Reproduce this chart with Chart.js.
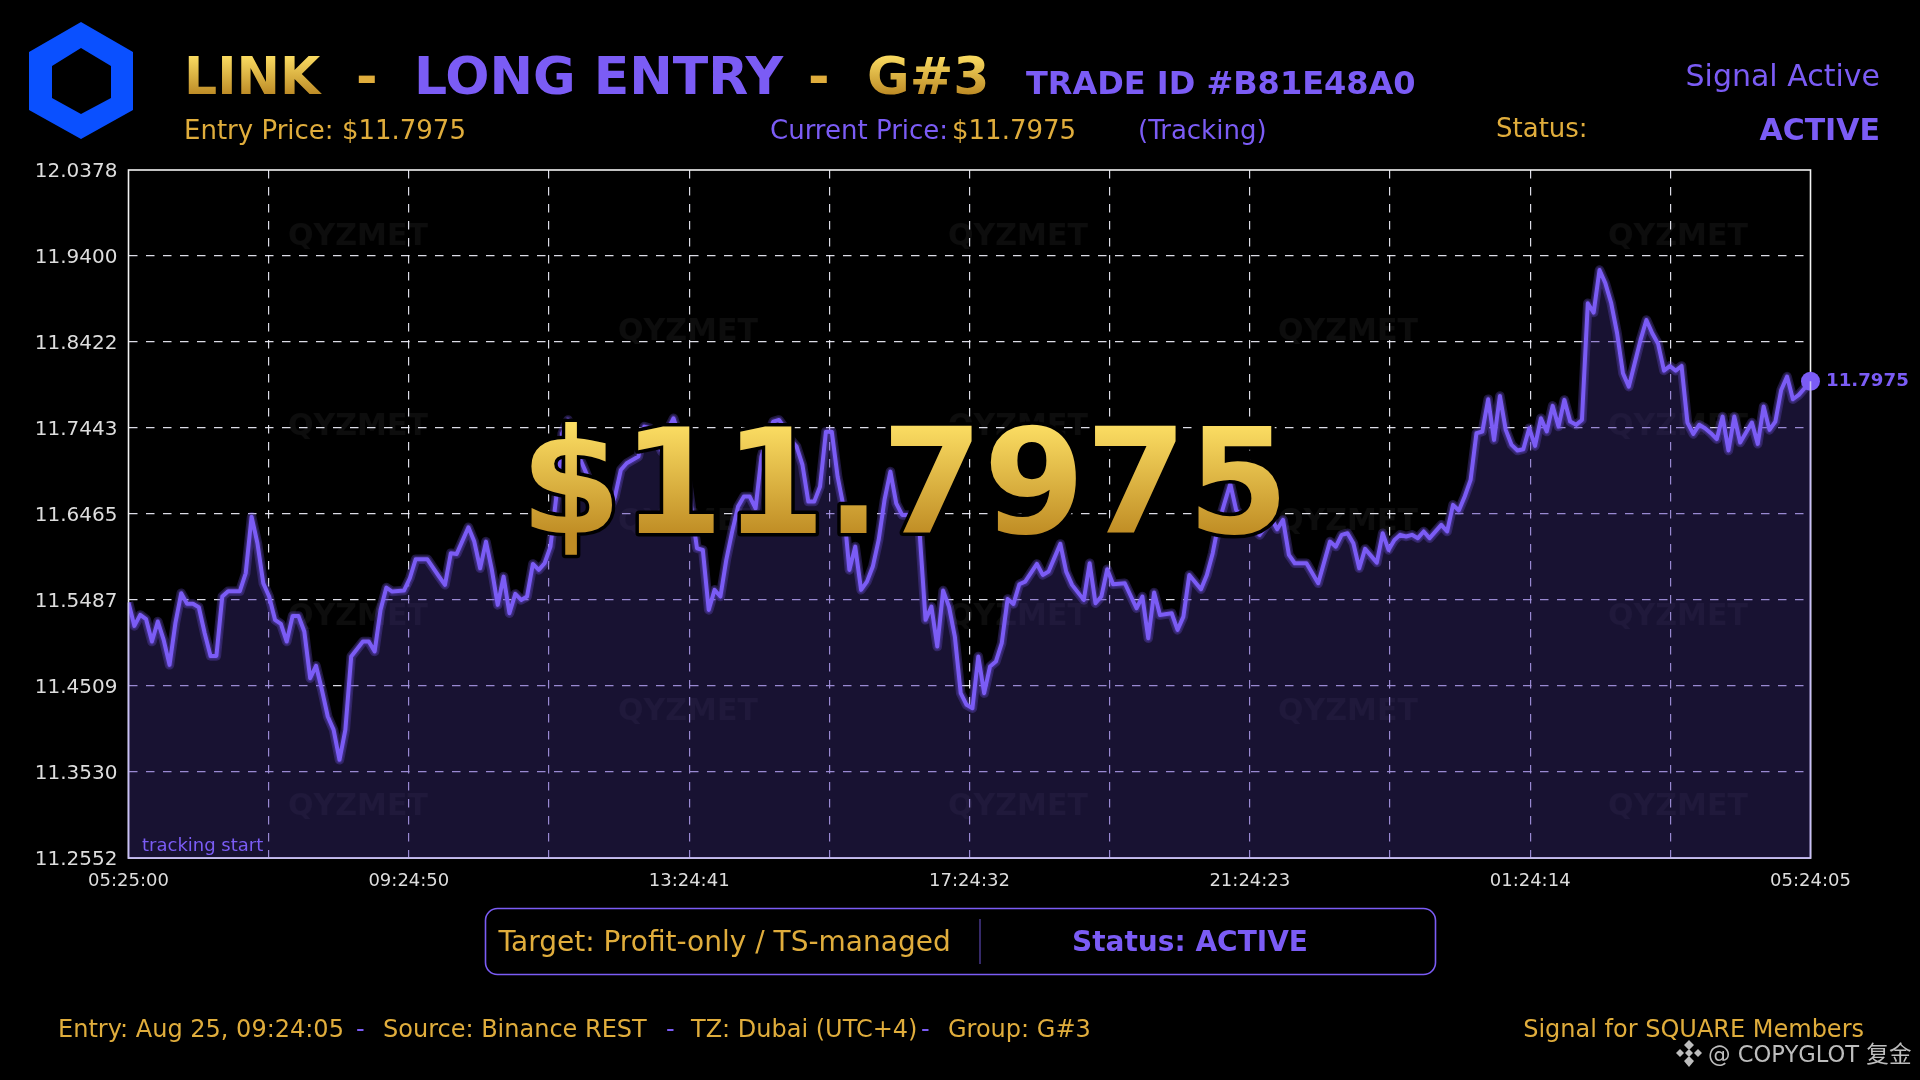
<!DOCTYPE html>
<html>
<head>
<meta charset="utf-8">
<title>LINK LONG ENTRY</title>
<script src="https://cdn.jsdelivr.net/npm/chart.js@4/dist/chart.umd.min.js"></script>
<style>
  html, body { margin: 0; padding: 0; background: #000; overflow: hidden; }
  #wrap { position: relative; width: 1920px; height: 1080px; }
  canvas { position: absolute; left: 0; top: 0; }
  svg { position: absolute; left: 0; top: 0; }
  svg text { font-family: "DejaVu Sans", sans-serif; }
  .gold { fill: #E0AD3C; }
  .purple { fill: #7B5CF5; }
  .bold { font-weight: bold; }
</style>
</head>
<body>
<div id="wrap">
  <canvas id="priceChart" width="1920" height="1080"></canvas>
  <svg width="1920" height="1080" viewBox="0 0 1920 1080">
    <defs>
      <linearGradient id="titleGold" gradientUnits="userSpaceOnUse" x1="0" y1="55" x2="0" y2="95">
        <stop offset="0" stop-color="#FBDD63"/>
        <stop offset="1" stop-color="#BC8A25"/>
      </linearGradient>
      <linearGradient id="bigGold" gradientUnits="userSpaceOnUse" x1="0" y1="425" x2="0" y2="535">
        <stop offset="0" stop-color="#FBDD63"/>
        <stop offset="1" stop-color="#BF8C24"/>
      </linearGradient>
    </defs>

    <!-- logo -->
    <path fill="#0A50FF" fill-rule="evenodd" d="M81 22 L133 52 L133 110 L81 139 L29 110 L29 52 Z M81 48 L52 66 L52 98 L81 114 L111 98 L111 66 Z"/>

    <!-- header -->
    <text class="bold" x="184" y="94" font-size="52" fill="url(#titleGold)">LINK</text>
    <text class="bold gold" x="356" y="94" font-size="52">-</text>
    <text class="bold purple" x="414" y="94" font-size="52">LONG ENTRY</text>
    <text class="bold gold" x="808" y="94" font-size="52">-</text>
    <text class="bold" x="867" y="94" font-size="52" fill="url(#titleGold)">G#3</text>
    <text class="bold purple" x="1026" y="94" font-size="32">TRADE ID #B81E48A0</text>
    <text class="purple" x="1880" y="86" font-size="30" text-anchor="end">Signal Active</text>

    <text class="gold" x="184" y="139" font-size="26">Entry Price: $11.7975</text>
    <text class="purple" x="770" y="139" font-size="26">Current Price:</text>
    <text class="gold" x="952" y="139" font-size="26">$11.7975</text>
    <text class="purple" x="1138" y="139" font-size="26">(Tracking)</text>
    <text class="gold" x="1496" y="137" font-size="26">Status:</text>
    <text class="bold purple" x="1880" y="140" font-size="30" text-anchor="end">ACTIVE</text>

    <!-- chart annotations -->
    <text class="purple" x="142" y="851" font-size="18">tracking start</text>
    <text class="bold purple" x="1826" y="386" font-size="18.2">11.7975</text>
    <text class="bold" x="904.5" y="533" font-size="146.5" text-anchor="middle" fill="url(#bigGold)" stroke="#000" stroke-width="7" paint-order="stroke" stroke-linejoin="round">$11.7975</text>

    <!-- status box -->
    <rect x="485.5" y="908.5" width="950" height="66" rx="12" ry="12" fill="#000" stroke="#7B5CF5" stroke-width="1.6"/>
    <line x1="980" y1="919" x2="980" y2="964" stroke="#5a45b0" stroke-width="1.2"/>
    <text class="gold" x="498.5" y="950.5" font-size="28">Target: Profit-only / TS-managed</text>
    <text class="bold purple" x="1190" y="950.5" font-size="28" text-anchor="middle">Status: ACTIVE</text>

    <!-- footer -->
    <text class="gold" x="58" y="1037" font-size="24">Entry: Aug 25, 09:24:05</text>
    <text class="purple" x="356" y="1037" font-size="24">-</text>
    <text class="gold" x="383" y="1037" font-size="24">Source: Binance REST</text>
    <text class="purple" x="666" y="1037" font-size="24">-</text>
    <text class="gold" x="691" y="1037" font-size="24">TZ: Dubai (UTC+4)</text>
    <text class="purple" x="921" y="1037" font-size="24">-</text>
    <text class="gold" x="948" y="1037" font-size="24">Group: G#3</text>
    <text class="gold" x="1864" y="1037" font-size="24" text-anchor="end">Signal for SQUARE Members</text>

    <!-- copy mark -->
    <path fill="#BDBDBD" d="M1689 1040 L1694 1045 L1689 1050 L1684 1045 Z M1680 1049 L1684 1053 L1680 1057 L1676 1053 Z M1698 1049 L1702 1053 L1698 1057 L1694 1053 Z M1689 1049 L1693 1053 L1689 1057 L1685 1053 Z M1689 1056 L1694 1061 L1689 1067 L1684 1061 Z"/>
    <text x="1708" y="1062" font-size="22.6" fill="#BDBDBD" style="font-family:'DejaVu Sans','Noto Sans CJK SC',sans-serif">@ COPYGLOT 复金</text>
  </svg>
</div>

<script>
// 5 minute bars over the 24h window (bar 0 = 05:25:00, bar 287 = 05:24:05)
const barIndex = [
  0,1,2,3,4,5,6,7,8,9,10,11,12,13,14,15,16,17,19,20,
  21,22,23,24,25,26,27,28,29,30,31,32,33,34,35,36,37,38,40,41,
  42,43,44,45,47,48,49,51,53,54,55,56,58,59,60,61,62,63,64,65,
  66,67,68,69,70,71,72,73,74,75,76,77,78,79,80,81,82,83,84,85,
  87,88,89,90,91,92,93,94,95,96,97,98,99,100,101,102,103,104,105,106,
  107,108,109,110,111,112,113,114,115,116,117,118,119,120,121,122,123,124,125,126,
  127,128,129,130,131,132,133,134,135,136,137,138,139,140,141,142,143,144,145,146,
  147,148,149,150,151,152,153,155,156,157,159,160,161,163,164,165,166,167,168,170,
  172,173,174,175,176,178,179,180,181,183,184,185,186,187,188,189,190,191,192,193,
  195,196,197,198,199,201,203,205,206,207,208,209,210,211,213,214,215,216,217,218,
  219,220,221,222,224,225,226,227,228,229,230,231,232,233,234,235,236,237,238,239,
  240,241,242,243,244,245,246,247,248,249,250,251,252,253,254,255,256,257,258,259,
  260,261,262,263,264,265,266,267,268,269,270,271,272,273,274,275,277,278,279,280,
  281,282,283,284,285,287
];
const prices = [
  11.5458,11.5192,11.5317,11.5268,11.5014,11.5242,11.5033,11.4749,11.5223,11.5564,11.5443,11.5443,11.5405,11.5109,11.4851,11.4851,11.5526,11.5587,11.5587,11.5791,
  11.6435,11.6132,11.5677,11.5526,11.5261,11.5215,11.5014,11.5306,11.5306,11.5128,11.4597,11.4738,11.4465,11.4161,11.4010,11.3669,11.4010,11.4844,11.5014,11.5014,
  11.4901,11.5374,11.5628,11.5583,11.5594,11.5734,11.5950,11.5950,11.5753,11.5659,11.6019,11.6011,11.6314,11.6151,11.5848,11.6151,11.5829,11.5431,11.5753,11.5336,
  11.5556,11.5488,11.5526,11.5897,11.5829,11.5905,11.6094,11.6663,11.7383,11.7535,11.7383,11.7099,11.6947,11.6777,11.6587,11.6473,11.6511,11.6663,11.6966,11.7042,
  11.7118,11.7459,11.7440,11.7307,11.7175,11.7421,11.7554,11.7345,11.7004,11.6549,11.6075,11.6056,11.5374,11.5602,11.5526,11.5943,11.6265,11.6549,11.6663,11.6663,
  11.6530,11.7118,11.7345,11.7516,11.7535,11.7440,11.7307,11.7231,11.7023,11.6606,11.6606,11.6777,11.7402,11.7402,11.6890,11.6549,11.5829,11.6094,11.5602,11.5696,
  11.5867,11.6170,11.6625,11.6947,11.6587,11.6454,11.6454,11.6360,11.6246,11.5261,11.5412,11.4957,11.5594,11.5412,11.5071,11.4427,11.4294,11.4256,11.4844,11.4427,
  11.4730,11.4787,11.4995,11.5499,11.5443,11.5666,11.5696,11.5897,11.5772,11.5810,11.6125,11.5810,11.5659,11.5488,11.5905,11.5450,11.5526,11.5837,11.5666,11.5677,
  11.5393,11.5526,11.5052,11.5571,11.5317,11.5336,11.5147,11.5298,11.5772,11.5609,11.5772,11.6019,11.6360,11.6587,11.6807,11.6511,11.6435,11.6379,11.6303,11.6227,
  11.6417,11.6291,11.6398,11.6000,11.5905,11.5905,11.5677,11.6151,11.6094,11.6227,11.6246,11.6132,11.5848,11.6068,11.5912,11.6246,11.6056,11.6170,11.6228,11.6209,
  11.6228,11.6190,11.6266,11.6190,11.6342,11.6266,11.6569,11.6505,11.6664,11.6853,11.7384,11.7403,11.7770,11.7308,11.7808,11.7422,11.7251,11.7187,11.7202,11.7441,
  11.7240,11.7554,11.7403,11.7695,11.7460,11.7763,11.7516,11.7479,11.7535,11.8862,11.8756,11.9241,11.9089,11.8862,11.8521,11.8066,11.7914,11.8180,11.8445,11.8672,
  11.8521,11.8400,11.8096,11.8149,11.8096,11.8149,11.7505,11.7376,11.7479,11.7441,11.7384,11.7316,11.7573,11.7187,11.7573,11.7278,11.7505,11.7263,11.7687,11.7422,
  11.7516,11.7876,11.8028,11.7770,11.7820,11.7975
];
const yTicks = [11.2552, 11.3530, 11.4509, 11.5487, 11.6465, 11.7443, 11.8422, 11.9400, 12.0378];
const xTickLabels = ['05:25:00','','09:24:50','','13:24:41','','17:24:32','','21:24:23','','01:24:14','','05:24:05'];
const lastBar = 287;

const PURPLE = '#7B5CF5';
const GRID_WHITE = 'rgba(244,244,255,0.9)';
const points = barIndex.map((x, i) => ({ x: x, y: prices[i] }));

function hideEdge(ctx, total) {
  return (ctx.index === 0 || ctx.index === total - 1) ? 'transparent' : GRID_WHITE;
}

// frame + faint QYZMET marks under the series, lavender tint of the grid under the line
const plotDecor = {
  id: 'plotDecor',
  beforeDraw(chart) {
    // multiply needs an opaque backdrop
    const { ctx, width, height } = chart;
    ctx.save();
    ctx.fillStyle = '#000';
    ctx.fillRect(0, 0, width, height);
    ctx.restore();
  },
  beforeDatasetsDraw(chart) {
    const { ctx, chartArea: a } = chart;
    ctx.save();
    ctx.fillStyle = 'rgba(255,255,255,0.05)';
    ctx.font = 'bold 30px "DejaVu Sans"';
    ctx.textAlign = 'center';
    ctx.textBaseline = 'middle';
    const rows = [237.5, 332.5, 427.5, 522.5, 617.5, 712.5, 807.5];
    rows.forEach((y, r) => {
      const cols = r % 2 === 0 ? [358, 1018, 1678] : [688, 1348];
      cols.forEach(x => ctx.fillText('QYZMET', x, y));
    });
    ctx.strokeStyle = '#f2f2f2';
    ctx.lineWidth = 1.6;
    ctx.strokeRect(a.left, a.top, a.right - a.left, a.bottom - a.top);
    ctx.restore();
  },
  beforeDatasetDraw(chart, args) {
    if (args.index !== 2) return; // right after the filled dataset
    const { ctx, chartArea: a, scales } = chart;
    ctx.save();
    ctx.globalCompositeOperation = 'multiply';
    ctx.fillStyle = 'rgb(216,198,255)';
    ctx.beginPath();
    ctx.moveTo(a.left, a.bottom);
    points.forEach(p => ctx.lineTo(scales.x.getPixelForValue(p.x), scales.y.getPixelForValue(p.y)));
    ctx.lineTo(a.right, a.bottom);
    ctx.closePath();
    ctx.fill();
    ctx.restore();
  },
  afterDatasetsDraw(chart) {
    const { ctx, chartArea: a, scales } = chart;
    ctx.save();
    ctx.strokeStyle = '#c8bff6';
    ctx.lineWidth = 1.6;
    ctx.beginPath();
    ctx.moveTo(a.left, scales.y.getPixelForValue(prices[0]));
    ctx.lineTo(a.left, a.bottom);
    ctx.lineTo(a.right, a.bottom);
    ctx.lineTo(a.right, scales.y.getPixelForValue(prices[prices.length - 1]));
    ctx.stroke();
    ctx.restore();
  }
};

new Chart(document.getElementById('priceChart'), {
  type: 'line',
  plugins: [plotDecor],
  data: {
    datasets: [
      {
        // end dot
        data: [points[points.length - 1]],
        pointRadius: 9.5,
        pointBackgroundColor: PURPLE,
        pointBorderWidth: 0,
        showLine: false,
        clip: false
      },
      {
        data: points,
        borderColor: PURPLE,
        borderWidth: 4,
        borderJoinStyle: 'round',
        pointRadius: 0,
        tension: 0,
        fill: false
      },
      {
        // soft glow
        data: points,
        borderColor: 'rgba(123,92,245,0.26)',
        borderWidth: 9.5,
        borderJoinStyle: 'round',
        pointRadius: 0,
        tension: 0,
        fill: false
      },
      {
        data: points,
        borderColor: 'rgba(123,92,245,0.22)',
        borderWidth: 6.5,
        borderJoinStyle: 'round',
        pointRadius: 0,
        tension: 0,
        fill: 'start',
        backgroundColor: 'rgba(92,76,165,0.3)'
      }
    ]
  },
  options: {
    responsive: false,
    animation: false,
    devicePixelRatio: 1,
    layout: { padding: { left: 0, top: 170, right: 109.5, bottom: 0 } },
    plugins: { legend: { display: false }, tooltip: { enabled: false } },
    scales: {
      x: {
        type: 'linear',
        min: 0,
        max: lastBar,
        afterBuildTicks(axis) {
          axis.ticks = xTickLabels.map((_, i) => ({ value: i * lastBar / 12 }));
        },
        afterFit(axis) { axis.height = 222; },
        border: { display: false, dash: [8.5, 8.5] },
        grid: {
          color: ctx => hideEdge(ctx, xTickLabels.length),
          lineWidth: 1.2,
          drawTicks: false
        },
        ticks: {
          color: '#DDDDDD',
          font: { family: 'DejaVu Sans', size: 18 },
          padding: 13,
          maxRotation: 0,
          autoSkip: false,
          callback: (v, i) => xTickLabels[i]
        }
      },
      y: {
        min: yTicks[0],
        max: yTicks[yTicks.length - 1],
        afterBuildTicks(axis) {
          axis.ticks = yTicks.map(v => ({ value: v }));
        },
        afterFit(axis) { axis.width = 128.5; },
        border: { display: false, dash: [8.5, 8.5] },
        grid: {
          color: ctx => hideEdge(ctx, yTicks.length),
          lineWidth: 1.2,
          drawTicks: false
        },
        ticks: {
          color: '#DDDDDD',
          font: { family: 'DejaVu Sans', size: 20 },
          padding: 11,
          labelOffset: 1.5,
          callback: v => v.toFixed(4)
        }
      }
    }
  }
});
</script>
</body>
</html>
